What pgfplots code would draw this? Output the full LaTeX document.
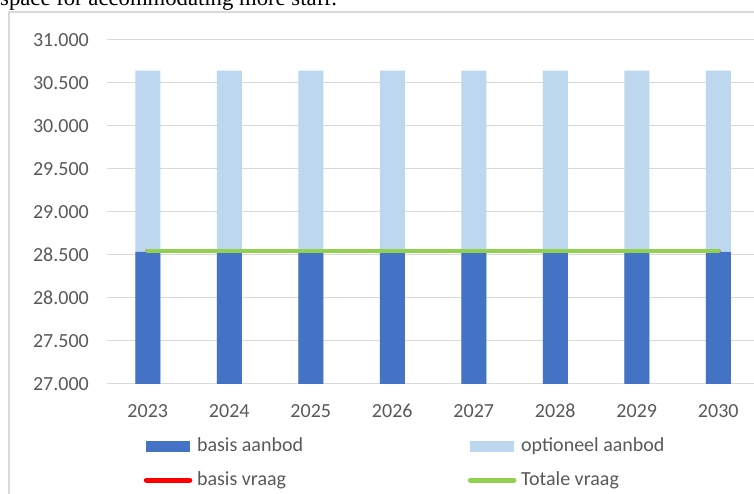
\documentclass[border=0pt]{standalone}
\usepackage{fontspec}
\setmainfont{Carlito}
\newfontfamily\seriffont{Liberation Serif}
\usepackage{pgfplots}
\pgfplotsset{compat=1.18}
\definecolor{basis}{HTML}{4472C4}
\definecolor{opt}{HTML}{BDD7EE}
\definecolor{tot}{HTML}{92D050}
\definecolor{vraag}{HTML}{FF0000}
\definecolor{gridc}{HTML}{D9D9D9}
\definecolor{txt}{HTML}{595959}
\begin{document}
\begin{tikzpicture}[x=1pt,y=1pt]
\useasboundingbox (0,0) rectangle (754,494);
\clip (0,0) rectangle (754,494);
\fill[white] (0,0) rectangle (754,494);
\node[anchor=base west, inner sep=0pt, font=\seriffont\fontsize{22.7}{26}\selectfont] at (0,488) {space for accommodating more staff.};
\draw[gridc, line width=1.2pt] (9,-5) -- (9,482) -- (770,482);
\begin{axis}[
  at={(107pt,110pt)}, anchor=south west, scale only axis,
  width=652pt, height=344pt,
  xmin=-0.5, xmax=7.5, ymin=27000, ymax=31000,
  xtick={0,1,2,3,4,5,6,7},
  xticklabels={2023,2024,2025,2026,2027,2028,2029,2030},
  ytick={27000,27500,28000,28500,29000,29500,30000,30500,31000},
  scaled y ticks=false,
  axis line style={draw=none},
  major tick length=0pt,
  ymajorgrids, grid style={gridc, line width=1pt},
  tick label style={font=\fontsize{20}{24}\selectfont, text=txt},
  yticklabel style={anchor=east, inner sep=0pt, xshift=-18pt,
    /pgf/number format/.cd, fixed, precision=0, 1000 sep={.}, assume math mode=true},
  xticklabel style={anchor=base, inner sep=0pt, yshift=-34pt},
  legend columns=2,
  legend cell align=left,
  legend style={at={(0.0599,-0.1553)}, anchor=north west, draw=none, fill=none,
    inner sep=0pt, outer sep=0pt, font=\fontsize{20}{24}\selectfont, text=txt,
    row sep=16pt, column sep=0pt,
    /tikz/every even column/.append style={column sep=160pt},
    nodes={inner xsep=7pt, inner ysep=0pt, text height=14pt, text depth=4pt}},
]
% optioneel aanbod (top of stack: basis + optioneel)
\addplot[ybar, bar width=25pt, bar shift=0pt, fill=opt, draw=none, forget plot]
  coordinates {(0,30645) (1,30645) (2,30645) (3,30645) (4,30645) (5,30645) (6,30645) (7,30645)};
% basis aanbod
\addplot[ybar, bar width=25pt, bar shift=0pt, fill=basis, draw=none,
  legend image code/.code={\fill[basis, draw=none] (0pt,-5.8pt) rectangle (44pt,5.8pt);}]
  coordinates {(0,28535) (1,28535) (2,28535) (3,28535) (4,28535) (5,28535) (6,28535) (7,28535)};
\addlegendentry{basis aanbod}
\addlegendimage{legend image code/.code={\fill[opt, draw=none] (0pt,-5.8pt) rectangle (44pt,5.8pt);}}
\addlegendentry{optioneel aanbod}
\addplot[vraag, line width=4.7pt, line cap=round, no marks,
  legend image code/.code={\path[draw=none, fill=none] (0pt,-5.8pt) rectangle (44pt,5.8pt);
    \begin{pgfinterruptboundingbox}\fill[vraag, draw=none, rounded corners=2.3pt] (-2.3pt,-2.35pt) rectangle (46.3pt,2.35pt);\end{pgfinterruptboundingbox}}]
  coordinates {(0,28545) (1,28545) (2,28545) (3,28545) (4,28545) (5,28545) (6,28545) (7,28545)};
\addlegendentry{basis vraag}
\addplot[tot, line width=4.7pt, line cap=round, no marks,
  legend image code/.code={\path[draw=none, fill=none] (0pt,-5.8pt) rectangle (44pt,5.8pt);
    \begin{pgfinterruptboundingbox}\fill[tot, draw=none, rounded corners=2.3pt] (-2.3pt,-2.35pt) rectangle (46.3pt,2.35pt);\end{pgfinterruptboundingbox}}]
  coordinates {(0,28545) (1,28545) (2,28545) (3,28545) (4,28545) (5,28545) (6,28545) (7,28545)};
\addlegendentry{Totale vraag}
\end{axis}
\end{tikzpicture}
\end{document}
